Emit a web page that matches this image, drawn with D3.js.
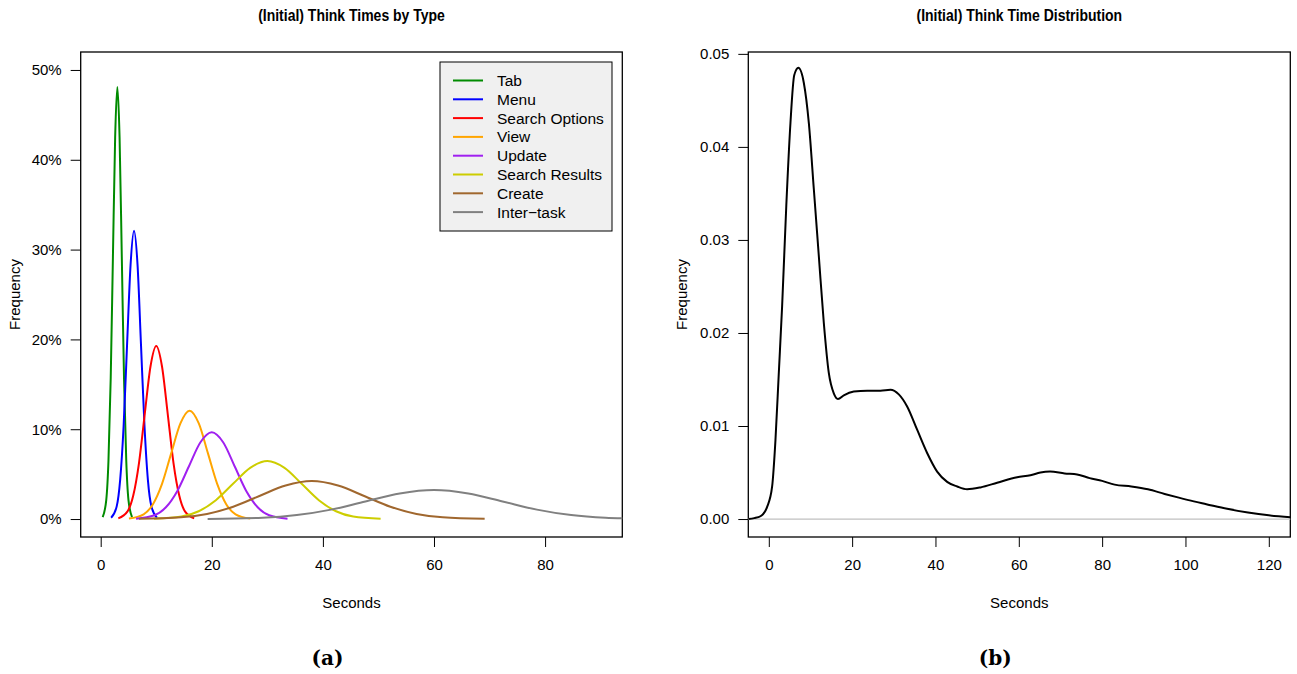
<!DOCTYPE html>
<html>
<head>
  <title>Think Times</title>
</head>
<style>
  body {
    margin: 0;
    background: white;
  }
  text {
    font-family: "Liberation Sans", Arial, sans-serif;
    fill: black;
  }
  .caption {
    font-family: "DejaVu Serif", serif;
    font-weight: bold;
  }
</style>
<body>
  <script src="https://d3js.org/d3.v7.min.js"></script>
  <script>
    // think time types, one curve each: [seconds, frequency]
    const types = ["Tab", "Menu", "Search Options", "View", "Update", "Search Results", "Create", "Inter\u2212task"];

    const tab = [[0.36, 0.0021], [1.0, 0.0211], [1.4, 0.0651], [1.8, 0.1562], [2.2, 0.2917], [2.6, 0.4245], [3.0, 0.481],
                 [3.4, 0.4245], [3.8, 0.2917], [4.2, 0.1562], [4.6, 0.0651], [5.0, 0.0211], [5.64, 0.0021]];
    const menu = [[1.88, 0.0014], [2.88, 0.0141], [3.5, 0.0434], [4.13, 0.1042], [4.75, 0.1947], [5.38, 0.2833], [6.0, 0.321],
                  [6.63, 0.2833], [7.25, 0.1947], [7.88, 0.1042], [8.5, 0.0434], [9.13, 0.0141], [10.13, 0.0014]];
    const searchOptions = [[3.17, 0.0008], [4.83, 0.0085], [5.86, 0.0261], [6.9, 0.0626], [7.93, 0.1169], [8.97, 0.1701], [10.0, 0.1927],
                           [11.03, 0.1701], [12.07, 0.1169], [13.1, 0.0626], [14.14, 0.0261], [15.17, 0.0085], [16.83, 0.0008]];
    const view = [[5.08, 0.0005], [7.73, 0.0053], [9.38, 0.0163], [11.04, 0.0392], [12.69, 0.0731], [14.35, 0.1064], [16.0, 0.1206],
                  [17.66, 0.1064], [19.31, 0.0731], [20.97, 0.0392], [22.62, 0.0163], [24.28, 0.0053], [26.92, 0.0005]];
    const update = [[6.37, 0.0004], [9.67, 0.0042], [11.74, 0.0131], [13.8, 0.0313], [15.87, 0.0585], [17.93, 0.0852], [20.0, 0.0965],
                    [22.07, 0.0852], [24.13, 0.0585], [26.2, 0.0313], [28.26, 0.0131], [30.33, 0.0042], [33.63, 0.0004]];
    const searchResults = [[9.61, 0.0003], [14.55, 0.0028], [17.64, 0.0087], [20.73, 0.021], [23.82, 0.0392], [26.91, 0.057], [30.0, 0.0646],
                           [33.09, 0.057], [36.18, 0.0392], [39.27, 0.021], [42.36, 0.0087], [45.45, 0.0028], [50.39, 0.0003]];
    const create = [[6.88, 0.0002], [14.43, 0.0019], [19.14, 0.0057], [23.86, 0.0137], [28.57, 0.0257], [33.29, 0.0373], [38.0, 0.0423],
                    [42.72, 0.0373], [47.43, 0.0257], [52.15, 0.0137], [56.86, 0.0057], [61.58, 0.0019], [69.12, 0.0002]];
    const interTask = [[19.25, 0.0001], [29.13, 0.0014], [35.3, 0.0044], [41.48, 0.0105], [47.65, 0.0196], [53.83, 0.0285], [60.0, 0.0323],
                       [66.18, 0.0285], [72.35, 0.0196], [78.53, 0.0105], [84.7, 0.0044], [90.88, 0.0014], [95.0, 0.0006], [100.75, 0.0001]];
    const typeCurves = [tab, menu, searchOptions, view, update, searchResults, create, interTask];
    const typeColors = ["#008b00", "#0000ff", "#ff0000", "#ffa500", "#a020f0", "#cdcd00", "#a0672e", "#808080"];

    // overall think time density
    const thinkSeconds = [-4.9, -3.5, -2.0, -0.4, 0.8, 1.6, 2.4, 3.2, 4.2, 5.2, 6.1, 7.1, 8.4, 9.6, 10.8, 12.0, 13.2, 14.4, 15.6, 16.6,
                          18.0, 20.4, 23.6, 26.8, 29.2, 31.2, 33.2, 35.6, 38.0, 40.4, 42.8, 45.2, 47.6, 50.8, 54.8, 59.6, 62.8, 65.2,
                          67.5, 71.0, 74.0, 77.0, 80.0, 83.0, 87.0, 91.0, 95.0, 98.4, 102.0, 105.0, 110.0, 115.0, 120.0, 125.2];
    const thinkDensity = [0.0000, 0.0001, 0.0003, 0.0013, 0.0035, 0.0085, 0.0157, 0.0229, 0.0337, 0.0426, 0.0477, 0.0485, 0.0469, 0.0426,
                          0.0355, 0.0283, 0.0211, 0.0157, 0.0135, 0.0129, 0.0133, 0.0137, 0.0138, 0.0138, 0.0139, 0.0134, 0.0121, 0.0096,
                          0.0071, 0.0051, 0.0040, 0.0035, 0.0032, 0.0034, 0.0039, 0.0045, 0.0047, 0.0050, 0.0051, 0.0049, 0.0048, 0.0044,
                          0.0041, 0.0037, 0.0035, 0.0032, 0.0027, 0.0023, 0.0019, 0.0016, 0.0011, 0.0007, 0.0004, 0.0002];

    const leftXTicks = [0, 20, 40, 60, 80];
    const leftYTicks = [0, 0.1, 0.2, 0.3, 0.4, 0.5];
    const rightXTicks = [0, 20, 40, 60, 80, 100, 120];
    const rightYTicks = [0, 0.01, 0.02, 0.03, 0.04, 0.05];

    const w = 1297;
    const h = 674;

    const svg = d3.select("body")
                  .append("svg")
                  .attr("width", w)
                  .attr("height", h);

    // draws box, ticks, labels and titles of one panel
    function panel(x, y, xTicks, yTicks, yFmt, title, caption, id) {
      const [x0, x1] = x.range();
      const [y0, y1] = y.range();
      const g = svg.append("g");

      g.append("clipPath").attr("id", id)
        .append("rect")
        .attr("x", x0).attr("y", y1)
        .attr("width", x1 - x0).attr("height", y0 - y1);

      g.append("g")
        .attr("transform", "translate(0," + y0 + ")")
        .call(d3.axisBottom(x).tickValues(xTicks).tickSize(10).tickPadding(12).tickSizeOuter(0))
        .call(a => a.select(".domain").remove())
        .call(a => a.selectAll("text").style("font-size", "15px").attr("font-family", null));

      g.append("g")
        .attr("transform", "translate(" + x0 + ",0)")
        .call(d3.axisLeft(y).tickValues(yTicks).tickFormat(yFmt).tickSize(10).tickPadding(9).tickSizeOuter(0))
        .call(a => a.select(".domain").remove())
        .call(a => a.selectAll("text").style("font-size", "15px").attr("font-family", null));

      g.append("rect")
        .attr("x", x0).attr("y", y1)
        .attr("width", x1 - x0).attr("height", y0 - y1)
        .attr("fill", "none")
        .attr("stroke", "black")
        .attr("stroke-width", 1.3);

      const cx = (x0 + x1) / 2;
      // title is narrow and tall in the original, so squeeze it a bit
      g.append("text")
        .attr("transform", "translate(" + cx + ",21) scale(0.875,1)")
        .attr("text-anchor", "middle")
        .style("font-size", "16px").style("font-weight", "bold")
        .text(title);
      g.append("text")
        .attr("x", cx).attr("y", 608)
        .attr("text-anchor", "middle")
        .style("font-size", "15px")
        .text("Seconds");
      g.append("text")
        .attr("transform", "translate(" + (x0 - 61) + "," + ((y0 + y1) / 2) + ") rotate(-90)")
        .attr("text-anchor", "middle")
        .style("font-size", "15px")
        .text("Frequency");
      svg.append("text")
        .attr("class", "caption")
        .attr("x", cx - 24).attr("y", 665)
        .attr("text-anchor", "middle")
        .style("font-size", "20px")
        .text(caption);
      return g;
    }

    //left: think times by type
    const xL = d3.scaleLinear().domain([-3.6, 93.9]).range([80.7, 622.3]);
    const yL = d3.scaleLinear().domain([-0.02, 0.52]).range([537, 52]);
    const gL = panel(xL, yL, leftXTicks, leftYTicks, d3.format(".0%"), "(Initial) Think Times by Type", "(a)", "clipL");

    const lineL = d3.line()
                    .x(d => xL(d[0]))
                    .y(d => yL(d[1]))
                    .curve(d3.curveMonotoneX);

    gL.append("g")
      .attr("clip-path", "url(#clipL)")
      .selectAll("path")
      .data(typeCurves)
      .join("path")
        .attr("d", lineL)
        .attr("fill", "none")
        .attr("stroke", (d, i) => typeColors[i])
        .attr("stroke-width", 2);

    // legend
    const legend = gL.append("g");
    legend.append("rect")
      .attr("x", 440).attr("y", 62)
      .attr("width", 172).attr("height", 169)
      .attr("fill", "#f0f0f0")
      .attr("stroke", "black");
    const rows = legend.selectAll(".row")
      .data(types)
      .join("g")
        .attr("class", "row")
        .attr("transform", (d, i) => "translate(0," + (80.5 + i * 18.8) + ")");
    rows.append("line")
      .attr("x1", 453).attr("x2", 483)
      .attr("stroke", (d, i) => typeColors[i])
      .attr("stroke-width", 2);
    rows.append("text")
      .attr("x", 497).attr("dy", "0.35em")
      .style("font-size", "15.5px")
      .text(d => d);

    //right: overall distribution
    const xR = d3.scaleLinear().domain([-4.92, 125.16]).range([748.3, 1290.3]);
    const yR = d3.scaleLinear().domain([-0.00193, 0.0502]).range([537, 52]);
    const gR = panel(xR, yR, rightXTicks, rightYTicks, d3.format(".2f"), "(Initial) Think Time Distribution", "(b)", "clipR");

    gR.append("line")
      .attr("x1", xR.range()[0]).attr("x2", xR.range()[1])
      .attr("y1", yR(0)).attr("y2", yR(0))
      .attr("stroke", "#c0c0c0")
      .attr("stroke-width", 1.3);

    const lineR = d3.line()
                    .x(i => xR(thinkSeconds[i]))
                    .y(i => yR(thinkDensity[i]))
                    .curve(d3.curveMonotoneX);

    gR.append("path")
      .attr("clip-path", "url(#clipR)")
      .attr("d", lineR(d3.range(thinkSeconds.length)))
      .attr("fill", "none")
      .attr("stroke", "black")
      .attr("stroke-width", 2);
  </script>
</body>
</html>
